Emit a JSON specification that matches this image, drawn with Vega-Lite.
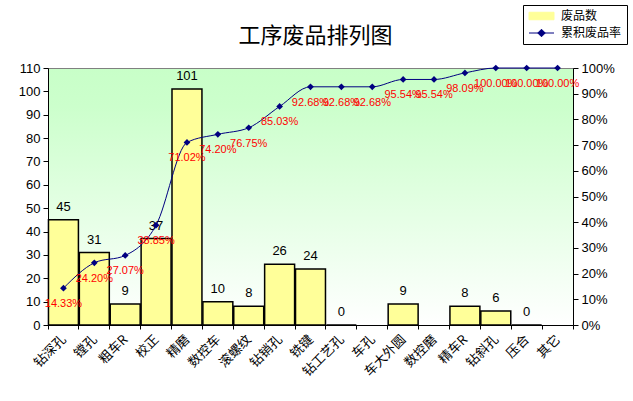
{
  "$schema": "https://vega.github.io/schema/vega-lite/v6.json",
  "width": 525,
  "height": 257,
  "autosize": {"type": "none"},
  "padding": {"left": 48, "top": 68, "right": 60, "bottom": 76},
  "background": "white",
  "config": {
    "font": "Liberation Sans",
    "view": {
      "stroke": "#808080",
      "fill": {
        "gradient": "linear",
        "x1": 0, "y1": 0, "x2": 0, "y2": 1,
        "stops": [
          {"offset": 0, "color": "#C8FFC8"},
          {"offset": 0.15, "color": "#CCFFCC"},
          {"offset": 1, "color": "#FFFFFF"}
        ]
      }
    },
    "axis": {
      "domainColor": "black",
      "tickColor": "black",
      "labelColor": "black",
      "labelFontSize": 13,
      "tickSize": 5,
      "labelPadding": 3,
      "labelOverlap": false,
      "grid": false,
      "title": null
    },
    "legend": {
      "orient": "none",
      "legendX": 475,
      "legendY": -63,
      "strokeColor": "black",
      "fillColor": "white",
      "padding": 5,
      "rowPadding": 5,
      "symbolSize": 100,
      "labelOffset": 21,
      "labelFont": "Noto Sans CJK SC",
      "labelFontSize": 12,
      "labelColor": "black"
    }
  },
  "title": {
    "text": "工序废品排列图",
    "font": "Noto Sans CJK SC",
    "fontSize": 22,
    "fontWeight": "normal",
    "color": "black",
    "anchor": "middle",
    "offset": -43,
    "dx": 5
  },
  "data": {
    "values": [
      {"process": "钻深孔", "count": 45, "cum": 0.1433},
      {"process": "镗孔", "count": 31, "cum": 0.2420},
      {"process": "粗车R", "count": 9, "cum": 0.2707},
      {"process": "校正", "count": 37, "cum": 0.3885},
      {"process": "精磨", "count": 101, "cum": 0.7102},
      {"process": "数控车", "count": 10, "cum": 0.7420},
      {"process": "滚螺纹", "count": 8, "cum": 0.7675},
      {"process": "钻销孔", "count": 26, "cum": 0.8503},
      {"process": "铣键", "count": 24, "cum": 0.9268},
      {"process": "钻工艺孔", "count": 0, "cum": 0.9268},
      {"process": "车孔", "count": null, "cum": 0.9268},
      {"process": "车大外圆", "count": 9, "cum": 0.9554},
      {"process": "数控磨", "count": null, "cum": 0.9554},
      {"process": "精车R", "count": 8, "cum": 0.9809},
      {"process": "钻斜孔", "count": 6, "cum": 1.0},
      {"process": "压合", "count": 0, "cum": 1.0},
      {"process": "其它", "count": null, "cum": 1.0}
    ]
  },
  "encoding": {
    "x": {
      "field": "process",
      "type": "nominal",
      "scale": {
        "domain": ["钻深孔", "镗孔", "粗车R", "校正", "精磨", "数控车", "滚螺纹", "钻销孔", "铣键", "钻工艺孔", "车孔", "车大外圆", "数控磨", "精车R", "钻斜孔", "压合", "其它"],
        "paddingInner": 0.03,
        "paddingOuter": 0.015
      },
      "axis": {
        "labelAngle": -45,
        "labelAlign": "right",
        "labelBaseline": "middle",
        "labelFont": "Noto Sans CJK SC",
        "labelFontSize": 13,
        "labelPadding": 8,
        "tickBand": "extent",
        "tickSize": 4
      }
    }
  },
  "layer": [
    {
      "encoding": {
        "y": {
          "field": "count",
          "type": "quantitative",
          "scale": {"domain": [0, 110]},
          "axis": {"orient": "left", "values": [0, 10, 20, 30, 40, 50, 60, 70, 80, 90, 100, 110]}
        }
      },
      "layer": [
        {
          "mark": {"type": "bar", "stroke": "black", "strokeWidth": 1.5, "opacity": 1},
          "encoding": {
            "color": {
              "datum": "废品数",
              "type": "nominal",
              "scale": {"domain": ["废品数", "累积废品率"], "range": ["#FFFF99", "#000080"]},
              "legend": {
                "title": null,
                "symbolType": "M-1,-0.75H4V0.75H-1Z",
                "encode": {
                  "symbols": {
                    "update": {
                      "shape": {"signal": "datum.value === '废品数' ? 'M-1,-0.75H4V0.75H-1Z' : 'M-1,0H4M1.5,-0.75L2.25,0L1.5,0.75L0.75,0Z'"},
                      "fill": {"signal": "datum.value === '废品数' ? '#FFFF99' : '#000080'"},
                      "stroke": {"signal": "datum.value === '废品数' ? 'black' : '#000080'"},
                      "strokeWidth": {"value": 1},
                      "opacity": {"value": 1}
                    }
                  }
                }
              }
            }
          }
        },
        {
          "transform": [{"filter": "datum.count != null"}],
          "mark": {"type": "text", "color": "black", "fontSize": 13, "baseline": "middle", "dy": -13},
          "encoding": {
            "text": {"field": "count", "type": "quantitative"}
          }
        }
      ]
    },
    {
      "encoding": {
        "y": {
          "field": "cum",
          "type": "quantitative",
          "scale": {"domain": [0, 1]},
          "axis": {"orient": "right", "format": ".0%", "values": [0, 0.1, 0.2, 0.3, 0.4, 0.5, 0.6, 0.7, 0.8, 0.9, 1]}
        }
      },
      "layer": [
        {
          "mark": {
            "type": "line",
            "interpolate": "monotone",
            "strokeWidth": 1,
            "point": {"filled": true, "shape": "diamond", "size": 45, "opacity": 1}
          },
          "encoding": {
            "color": {
              "datum": "累积废品率",
              "type": "nominal",
              "legend": {
                "title": null,
                "symbolType": "M-1,-0.75H4V0.75H-1Z",
                "encode": {
                  "symbols": {
                    "update": {
                      "shape": {"signal": "datum.value === '废品数' ? 'M-1,-0.75H4V0.75H-1Z' : 'M-1,0H4M1.5,-0.75L2.25,0L1.5,0.75L0.75,0Z'"},
                      "fill": {"signal": "datum.value === '废品数' ? '#FFFF99' : '#000080'"},
                      "stroke": {"signal": "datum.value === '废品数' ? 'black' : '#000080'"},
                      "strokeWidth": {"value": 1},
                      "opacity": {"value": 1}
                    }
                  }
                }
              }
            }
          }
        },
        {
          "mark": {"type": "text", "color": "red", "fontSize": 11, "baseline": "middle", "dy": 16},
          "encoding": {
            "text": {"field": "cum", "type": "quantitative", "format": ".2%"}
          }
        }
      ]
    }
  ],
  "resolve": {"scale": {"y": "independent"}}
}
